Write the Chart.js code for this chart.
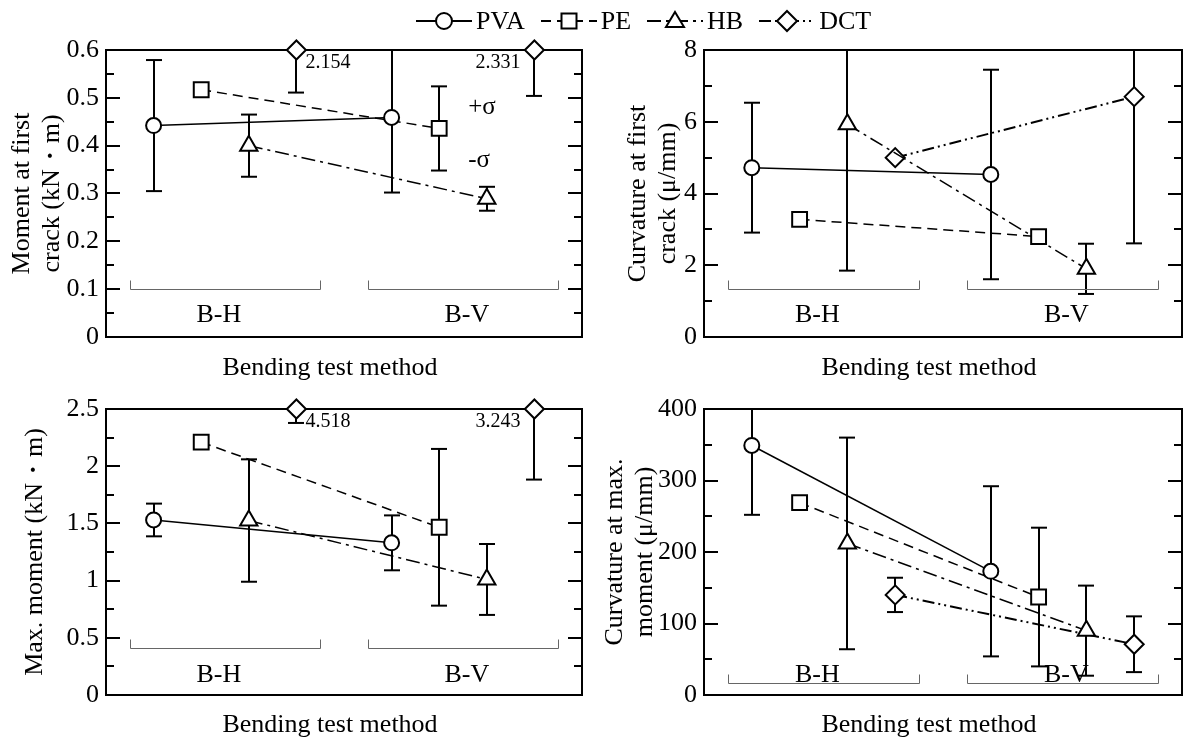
<!DOCTYPE html>
<html>
<head>
<meta charset="utf-8">
<script src="https://cdn.jsdelivr.net/npm/chart.js@4.4.1/dist/chart.umd.min.js"></script>
<style>
body { margin: 0; background: #fff; width: 1183px; height: 740px; overflow: hidden; position: relative; font-family: "Liberation Serif", "Times New Roman", serif; }
.panel { position: absolute; }
#legend { position: absolute; left: 416px; top: 6px; height: 30px; display: flex; align-items: center; gap: 16px; font-size: 26px; z-index: 2; }
#legend .item { display: flex; align-items: center; }
#legend svg { margin-right: 4px; }
</style>
</head>
<body>
<div id="legend"></div>
<div class="panel" style="left:0;top:0;width:600px;height:383px"><canvas id="crackMoment"></canvas></div>
<div class="panel" style="left:600px;top:0;width:583px;height:383px"><canvas id="crackCurv"></canvas></div>
<div class="panel" style="left:0;top:383px;width:600px;height:357px"><canvas id="maxMoment"></canvas></div>
<div class="panel" style="left:600px;top:383px;width:583px;height:357px"><canvas id="maxCurv"></canvas></div>
<script>
const seriesNames = ['PVA', 'PE', 'HB', 'DCT']
const groups = ['B-H', 'B-V']
const xTitle = 'Bending test method'
// x slot of each series inside the two test groups
const slotsBH = [1, 2, 3, 4]
const slotsBV = [6, 7, 8, 9]

// moment at first crack (kN・m), order PVA, PE, HB, DCT
const crackMomentBH = [0.442, 0.517, 0.400, 2.154]
const crackMomentBV = [0.459, 0.436, 0.289, 2.331]
const crackMomentSdBH = [0.137, null, 0.065, 1.643]
const crackMomentSdBV = [0.157, 0.088, 0.025, 1.827]

// curvature at first crack (μ/mm)
const crackCurvBH = [4.72, 3.28, 5.93, 5.00]
const crackCurvBV = [4.53, 2.80, 1.90, 6.70]
const crackCurvSdBH = [1.81, null, 4.08, null]
const crackCurvSdBV = [2.92, null, 0.70, 4.09]

// max. moment (kN・m)
const maxMomentBH = [1.53, 2.21, 1.525, 4.518]
const maxMomentBV = [1.33, 1.466, 1.01, 3.243]
const maxMomentSdBH = [0.143, null, 0.535, 2.14]
const maxMomentSdBV = [0.24, 0.685, 0.31, 1.36]

// curvature at max. moment (μ/mm)
const maxCurvBH = [349, 269, 212, 140]
const maxCurvBV = [173, 137, 90, 71]
const maxCurvSdBH = [97, null, 148, 24]
const maxCurvSdBV = [119, 97, 63, 39]

const markers = ['circle', 'rect', 'triangle', 'rectRot']
const radii = [7.5, 10.5, 10, 9.5]
const dashes = [[], [10, 6], [14, 5, 3, 5], [12, 4, 2, 4, 2, 4]]
const widths = [1.5, 1.5, 1.5, 2]
// where the group names sit along x
const groupLabelX = [2.37, 7.58]

const serif = '"Liberation Serif", "Times New Roman", serif'
Chart.defaults.font.family = serif
Chart.defaults.font.size = 26
Chart.defaults.color = '#000'

function line(ctx, x1, y1, x2, y2) {
	ctx.beginPath()
	ctx.moveTo(x1, y1)
	ctx.lineTo(x2, y2)
	ctx.stroke()
}

// box around the plot with inward ticks on both sides
const frame = {
	id: 'frame',
	beforeDatasetsDraw(chart) {
		const {ctx, chartArea: a, scales: {y}} = chart
		const step = y.options.ticks.stepSize
		ctx.save()
		ctx.strokeStyle = '#000'
		ctx.lineWidth = 2
		ctx.strokeRect(a.left, a.top, a.right - a.left, a.bottom - a.top)
		for (let k = 0; k * step / 2 <= y.max + 1e-9; k++) {
			const py = Math.round(y.getPixelForValue(k * step / 2))
			const len = k % 2 === 0 ? 14 : 8
			line(ctx, a.left, py, a.left + len, py)
			line(ctx, a.right - len, py, a.right, py)
		}
		// x axis title, centred a little left of the plot middle
		ctx.fillStyle = '#000'
		ctx.font = '26px ' + serif
		ctx.textAlign = 'center'
		ctx.textBaseline = 'middle'
		ctx.fillText(xTitle, (a.left + a.right) / 2 - 14, chart.height - 15)
		ctx.restore()
	}
}

// ±σ bars, cut at the plot edges
const errorBars = {
	id: 'errorBars',
	beforeDatasetsDraw(chart) {
		const {ctx, chartArea: a, scales: {x, y}} = chart
		ctx.save()
		ctx.strokeStyle = '#000'
		ctx.lineWidth = 2
		chart.data.datasets.forEach(ds => {
			ds.values.forEach((v, i) => {
				const sd = ds.sds[i]
				if (sd == null) return
				const px = Math.round(x.getPixelForValue(ds.data[i].x))
				const hi = y.getPixelForValue(v + sd)
				const lo = y.getPixelForValue(v - sd)
				const top = Math.max(hi, a.top)
				const bot = Math.min(lo, a.bottom)
				line(ctx, px, top, px, bot)
				if (hi >= a.top) line(ctx, px - 8, hi, px + 8, hi)
				if (lo <= a.bottom) line(ctx, px - 8, lo, px + 8, lo)
			})
		})
		ctx.restore()
	}
}

// B-H / B-V brackets under the points
const groupBrackets = {
	id: 'groupBrackets',
	beforeDatasetsDraw(chart, args, opts) {
		const {ctx, scales: {x, y}} = chart
		const spans = [slotsBH, slotsBV]
		ctx.save()
		ctx.strokeStyle = '#666'
		ctx.lineWidth = 1
		ctx.fillStyle = '#000'
		ctx.font = '26px ' + serif
		ctx.textAlign = 'center'
		ctx.textBaseline = 'middle'
		groups.forEach((g, i) => {
			const x1 = Math.round(x.getPixelForValue(Math.min(...spans[i]) - 0.5)) + 0.5
			const x2 = Math.round(x.getPixelForValue(Math.max(...spans[i]) + 0.5)) + 0.5
			const by = Math.round(y.getPixelForValue(opts.bracketY)) + 0.5
			ctx.beginPath()
			ctx.moveTo(x1, by - 9)
			ctx.lineTo(x1, by)
			ctx.lineTo(x2, by)
			ctx.lineTo(x2, by - 9)
			ctx.stroke()
			ctx.fillText(g, x.getPixelForValue(groupLabelX[i]), y.getPixelForValue(opts.labelY))
		})
		ctx.restore()
	}
}

// values above the axis are pinned to the top and written out
const offScaleLabels = {
	id: 'offScaleLabels',
	afterDatasetsDraw(chart, args, opts) {
		const {ctx, chartArea: a, scales: {x, y}} = chart
		ctx.save()
		ctx.fillStyle = '#000'
		ctx.textBaseline = 'middle'
		chart.data.datasets.forEach(ds => {
			ds.values.forEach((v, i) => {
				if (v <= y.max) return
				const px = x.getPixelForValue(ds.data[i].x)
				ctx.font = '20px ' + serif
				if (i === 0) {
					ctx.textAlign = 'left'
					ctx.fillText(v.toFixed(3), px + 9, a.top + 13)
				} else {
					ctx.textAlign = 'right'
					ctx.fillText(v.toFixed(3), px - 14, a.top + 13)
				}
			})
		})
		if (opts.sigma) {
			const ds = chart.data.datasets[opts.sigma.series]
			const i = opts.sigma.group
			const v = ds.values[i], sd = ds.sds[i]
			const px = x.getPixelForValue(ds.data[i].x) + 29
			ctx.font = '25px ' + serif
			ctx.textAlign = 'left'
			ctx.fillText('+σ', px, y.getPixelForValue(v + sd * 0.5))
			ctx.fillText('-σ', px, y.getPixelForValue(v - sd * 0.75))
		}
		ctx.restore()
	}
}

function seriesSets(bh, bv, sdBH, sdBV, yMax) {
	return seriesNames.map((name, s) => ({
		label: name,
		values: [bh[s], bv[s]],
		sds: [sdBH[s], sdBV[s]],
		data: [
			{x: slotsBH[s], y: Math.min(bh[s], yMax)},
			{x: slotsBV[s], y: Math.min(bv[s], yMax)},
		],
		borderColor: '#000',
		borderWidth: widths[s],
		borderDash: dashes[s],
		pointStyle: markers[s],
		pointRadius: radii[s],
		pointBackgroundColor: '#fff',
		pointBorderColor: '#000',
		pointBorderWidth: 2,
		fill: false,
		tension: 0,
		clip: false,
	}))
}

function makePanel(id, p) {
	return new Chart(document.getElementById(id), {
		type: 'line',
		data: {
			datasets: seriesSets(p.bh, p.bv, p.sdBH, p.sdBV, p.max),
		},
		options: {
			animation: false,
			responsive: true,
			maintainAspectRatio: false,
			layout: {
				autoPadding: false,
				padding: {top: p.padTop, right: p.padRight, left: 0, bottom: 0},
			},
			plugins: {
				legend: {display: false},
				tooltip: {enabled: false},
				groupBrackets: {bracketY: p.bracketY, labelY: p.labelY},
				offScaleLabels: {sigma: p.sigma},
			},
			scales: {
				x: {
					type: 'linear',
					min: 0,
					max: 10,
					ticks: {display: false},
					grid: {display: false, drawTicks: false},
					border: {display: false},
					afterFit: s => { s.height = p.xHeight },
				},
				y: {
					min: 0,
					max: p.max,
					ticks: {
						stepSize: p.step,
						padding: 7,
						callback: v => String(Math.round(v * 1000) / 1000),
					},
					grid: {display: false, drawTicks: false},
					border: {display: false},
					title: {
						display: true,
						text: p.title,
						padding: {top: p.titlePad, bottom: 0},
						font: {size: 26, lineHeight: 1.15},
					},
					afterFit: s => { s.width = p.yWidth },
				},
			},
		},
		plugins: [frame, errorBars, groupBrackets, offScaleLabels],
	})
}

makePanel('crackMoment', {
	bh: crackMomentBH, bv: crackMomentBV, sdBH: crackMomentSdBH, sdBV: crackMomentSdBV,
	max: 0.6, step: 0.1, title: ['Moment at first', 'crack (kN・m)'],
	padTop: 50, padRight: 18, xHeight: 46, yWidth: 106, titlePad: 7,
	bracketY: 0.1, labelY: 0.046, sigma: {series: 1, group: 1},
})
makePanel('crackCurv', {
	bh: crackCurvBH, bv: crackCurvBV, sdBH: crackCurvSdBH, sdBV: crackCurvSdBV,
	max: 8, step: 2, title: ['Curvature at first', 'crack (μ/mm)'],
	padTop: 50, padRight: 1, xHeight: 46, yWidth: 104, titlePad: 23,
	bracketY: 1.34, labelY: 0.61,
})
makePanel('maxMoment', {
	bh: maxMomentBH, bv: maxMomentBV, sdBH: maxMomentSdBH, sdBV: maxMomentSdBV,
	max: 2.5, step: 0.5, title: 'Max. moment (kN・m)',
	padTop: 26, padRight: 18, xHeight: 45, yWidth: 106, titlePad: 20,
	bracketY: 0.41, labelY: 0.175,
})
makePanel('maxCurv', {
	bh: maxCurvBH, bv: maxCurvBV, sdBH: maxCurvSdBH, sdBV: maxCurvSdBV,
	max: 400, step: 100, title: ['Curvature at max.', 'moment (μ/mm)'],
	padTop: 26, padRight: 1, xHeight: 45, yWidth: 104, titlePad: 0,
	bracketY: 16.8, labelY: 28,
})

// legend: line style with the marker on it, then the name
function legendSymbol(s) {
	const w = 56, cy = 12, cx = 28
	const dash = dashes[s].length ? ` stroke-dasharray="${dashes[s].join(' ')}"` : ''
	let mark
	switch (markers[s]) {
	case 'circle':
		mark = `<circle cx="${cx}" cy="${cy}" r="8"/>`
		break
	case 'rect':
		mark = `<rect x="${cx - 7.5}" y="${cy - 7.5}" width="15" height="15"/>`
		break
	case 'triangle':
		mark = `<polygon points="${cx},${cy - 9} ${cx + 9},${cy + 6} ${cx - 9},${cy + 6}"/>`
		break
	case 'rectRot':
		mark = `<polygon points="${cx},${cy - 10} ${cx + 10},${cy} ${cx},${cy + 10} ${cx - 10},${cy}"/>`
		break
	}
	return `<svg width="${w}" height="24"><line x1="0" y1="${cy}" x2="${w}" y2="${cy}" stroke="#000" stroke-width="2"${dash}/>` +
		`<g fill="#fff" stroke="#000" stroke-width="2">${mark}</g></svg>`
}

const legend = document.getElementById('legend')
seriesNames.forEach((name, s) => {
	const item = document.createElement('span')
	item.className = 'item'
	item.innerHTML = legendSymbol(s) + '<span>' + name + '</span>'
	legend.appendChild(item)
})
</script>
</body>
</html>
